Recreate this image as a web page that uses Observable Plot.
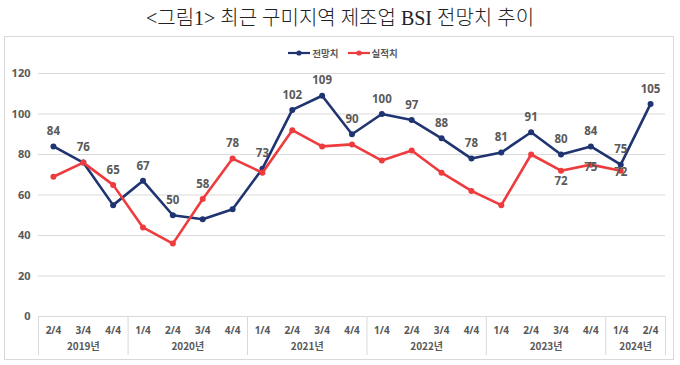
<!DOCTYPE html>
<html>
<head>
<meta charset="utf-8">
<script src="https://cdn.jsdelivr.net/npm/d3@7"></script>
<script src="https://cdn.jsdelivr.net/npm/@observablehq/plot@0.6"></script>
<style>
  html, body { margin: 0; padding: 0; background: #fff; }
  #wrap { position: relative; width: 680px; height: 365px; overflow: hidden; }
  #title { position: absolute; left: 0; top: 0; width: 680px; height: 36px; line-height: 36px; text-align: center;
    font-family: "Liberation Serif", "Noto Sans CJK KR", serif; font-size: 20px; font-weight: 300; color: #222; }
  #box { position: absolute; left: 4px; top: 36px; width: 668px; height: 322px; border: 1px solid #d9d9d9; pointer-events: none; }
  #chart { position: absolute; left: 0; top: 36px; }
  #legend { position: absolute; left: 0; top: 46px; width: 680px; display: flex; justify-content: center; gap: 9px;
    font-family: "Noto Sans CJK KR", "Noto Sans", sans-serif; font-size: 9.5px; font-weight: bold; color: #595959; padding-left: 3px; }
  #legend .item { display: flex; align-items: center; gap: 2px; }
</style>
</head>
<body>
<div id="wrap">
  <div id="title">&lt;그림1&gt; 최근 구미지역 제조업 BSI 전망치 추이</div>
  <div id="chart"></div>
  <div id="box"></div>
  <div id="legend"></div>
</div>
<script>
// ---- data ----
const years = ["2019년", "2020년", "2021년", "2022년", "2023년", "2024년"];
const quartersPerYear = [3, 4, 4, 4, 4, 2];
const quarterLabels = ["2/4","3/4","4/4","1/4","2/4","3/4","4/4","1/4","2/4","3/4","4/4","1/4","2/4","3/4","4/4","1/4","2/4","3/4","4/4","1/4","2/4"];
const seriesNames = ["전망치", "실적치"];
const forecast = [84, 76, 55, 67, 50, 48, 53, 73, 102, 109, 90, 100, 97, 88, 78, 81, 91, 80, 84, 75, 105];
const actual   = [69, 76, 65, 44, 36, 58, 78, 71, 92, 84, 85, 77, 82, 71, 62, 55, 80, 72, 75, 72, null];
const forecastLabels = [84, 76, null, 67, 50, null, null, 73, 102, 109, 90, 100, 97, 88, 78, 81, 91, 80, 84, 75, 105];
const actualLabels   = [null, null, 65, null, null, 58, 78, null, null, null, null, null, null, null, null, null, null, 72, 75, 72, null];
const yTicks = [0, 20, 40, 60, 80, 100, 120];

// ---- styling ----
const navy = "#1f3470";
const red = "#ee3b3e";
const textColor = "#595959";
const gridColor = "#d9d9d9";
const font = "'Noto Sans', 'Noto Sans CJK KR', sans-serif";

const rows = quarterLabels.map((q, i) => ({
  i, q, forecast: forecast[i], actual: actual[i],
  fLabel: forecastLabels[i], aLabel: actualLabels[i]
}));

// year groups
let start = 0;
const groups = years.map((y, k) => {
  const n = quartersPerYear[k];
  const g = { year: y, start: start - 0.5, end: start + n - 0.5, mid: start + (n - 1) / 2 };
  start += n;
  return g;
});
const boundaries = [groups[0].start, ...groups.map(g => g.end)];

// actual-label placement (some sit below/on the point to avoid overlaps)
const actualDy = i => (i === 17 ? 11 : i === 18 ? 3 : i === 19 ? 2 : -15);

const chart = Plot.plot({
  width: 680,
  height: 329,
  marginTop: 37,
  marginBottom: 49,
  marginLeft: 38,
  marginRight: 15,
  style: { color: textColor, fontFamily: font, background: "transparent", overflow: "visible" },
  x: { type: "linear", domain: [-0.5, quarterLabels.length - 0.5], axis: null },
  y: { domain: [0, 120], axis: null },
  marks: [
    Plot.gridY(yTicks.filter(d => d > 0), { stroke: gridColor, strokeOpacity: 1 }),
    Plot.ruleY([0], { stroke: gridColor }),
    Plot.ruleX(boundaries, { x: d => d, stroke: gridColor, insetTop: 243, insetBottom: -39 }),
    Plot.axisY(yTicks, { tickSize: 0, tickPadding: 8, fontSize: 11, fontWeight: "bold", fill: textColor }),
    Plot.axisX(d3.range(quarterLabels.length), { tickSize: 0, tickPadding: 10, fontSize: 10, fontWeight: "bold", fill: textColor, tickFormat: i => quarterLabels[i] }),
    Plot.text(groups, { x: "mid", text: "year", frameAnchor: "bottom", dy: 33, fontSize: 10, fontWeight: "bold", fill: textColor, fontFamily: "'Noto Sans CJK KR', sans-serif" }),
    Plot.line(rows, { x: "i", y: "forecast", stroke: navy, strokeWidth: 2.6 }),
    Plot.dot(rows, { x: "i", y: "forecast", r: 3, fill: navy }),
    Plot.line(rows.filter(d => d.actual != null), { x: "i", y: "actual", stroke: red, strokeWidth: 2.6 }),
    Plot.dot(rows.filter(d => d.actual != null), { x: "i", y: "actual", r: 3, fill: red }),
    Plot.text(rows.filter(d => d.fLabel != null), { x: "i", y: "forecast", text: "fLabel", dy: -15, fontSize: 11.5, fontWeight: "bold", fill: textColor }),
    ...rows.filter(d => d.aLabel != null).map(d =>
      Plot.text([d], { x: "i", y: "actual", text: "aLabel", dy: actualDy(d.i), fontSize: 11.5, fontWeight: "bold", fill: textColor })
    )
  ]
});
document.getElementById("chart").append(chart);

// legend
const legend = d3.select("#legend");
[[seriesNames[0], navy], [seriesNames[1], red]].forEach(([name, c]) => {
  const item = legend.append("div").attr("class", "item");
  const s = item.append("svg").attr("width", 22).attr("height", 8);
  s.append("line").attr("x1", 0).attr("x2", 22).attr("y1", 4).attr("y2", 4).attr("stroke", c).attr("stroke-width", 2.2);
  s.append("circle").attr("cx", 11).attr("cy", 4).attr("r", 2.6).attr("fill", c);
  item.append("span").text(name);
});
</script>
</body>
</html>
